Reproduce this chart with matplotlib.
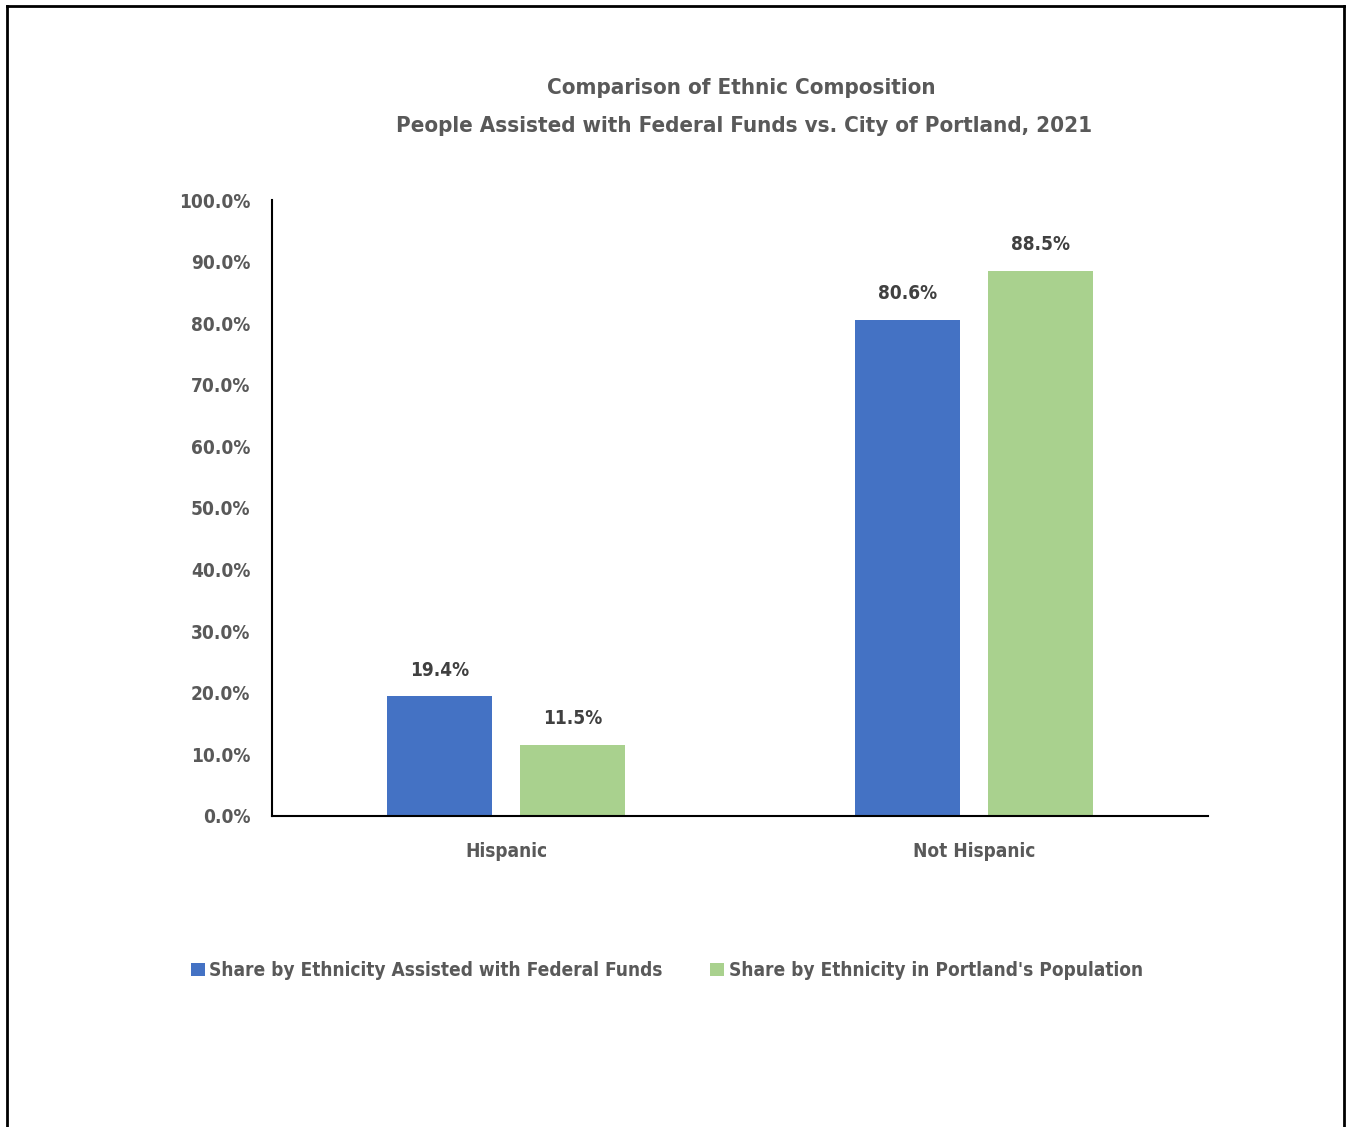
import matplotlib
matplotlib.use('Agg')
import matplotlib.pyplot as plt
from matplotlib.lines import Line2D
from matplotlib.patches import Patch
import numpy as np

plt.rcParams['font.family'] = ['DejaVu Sans']
plt.rcParams['font.stretch'] = 'condensed'

categories = ['Hispanic', 'Not Hispanic']
series_names = ['Share by Ethnicity Assisted with Federal Funds',
                "Share by Ethnicity in Portland's Population"]
federal = [19.4, 80.6]
portland = [11.5, 88.5]
colors = ['#4472C4', '#A9D18E']
text_color = '#595959'

fig = plt.figure(figsize=(13.51, 11.27), dpi=100)
ax = fig.add_axes([0.2013, 0.2760, 0.6929, 0.5465])

x = np.arange(len(categories))
width = 0.224
offset = 0.142
for vals, off, col in ((federal, -offset, colors[0]), (portland, offset, colors[1])):
    bars = ax.bar(x + off, vals, width, color=col, zorder=2)
    for b, v in zip(bars, vals):
        ax.annotate(f'{v:.1f}%', (b.get_x() + b.get_width() / 2, v),
                    xytext=(0, 12), textcoords='offset points', ha='center', va='bottom',
                    fontsize=13.7, fontweight='bold', color='#404040')

ax.set_xlim(-0.5, 1.5)
ax.set_ylim(0, 100)
ax.set_yticks(np.arange(0, 101, 10))
ax.set_yticklabels([f'{t:.1f}%' for t in np.arange(0, 101, 10)])
ax.set_xticks(x)
ax.set_xticklabels(categories)
ax.tick_params(axis='both', length=0, labelsize=13.7, labelcolor=text_color)
ax.tick_params(axis='y', pad=15.5)
ax.tick_params(axis='x', pad=19)
for lab in ax.get_xticklabels() + ax.get_yticklabels():
    lab.set_fontweight('bold')
ax.spines['top'].set_visible(False)
ax.spines['right'].set_visible(False)
ax.spines['left'].set_linewidth(1.5)
ax.spines['bottom'].set_linewidth(1.5)

fig.text(0.549, 0.922, 'Comparison of Ethnic Composition', ha='center', va='center',
         fontsize=16, fontweight='bold', color=text_color)
fig.text(0.551, 0.888, 'People Assisted with Federal Funds vs. City of Portland, 2021',
         ha='center', va='center', fontsize=16, fontweight='bold', color=text_color)

handles = [Patch(facecolor=c) for c in colors]
fig.legend(handles, series_names, loc='center', bbox_to_anchor=(0.4937, 0.139), ncol=2,
           frameon=False, handlelength=0.7, handleheight=0.7,
           handletextpad=0.26, columnspacing=2.5,
           prop={'weight': 'bold', 'size': 13.7})
for t in fig.legends[0].get_texts():
    t.set_color(text_color)

# outer frame (no bottom edge visible in the reference)
W, H = 1351, 1127
fig.add_artist(Line2D([7 / W, 7 / W], [0, 1 - 6 / H], color='black', lw=2))
fig.add_artist(Line2D([7 / W, 1344 / W], [1 - 6 / H, 1 - 6 / H], color='black', lw=2))
fig.add_artist(Line2D([1344 / W, 1344 / W], [0, 1 - 6 / H], color='black', lw=2))

fig.savefig('out.png', dpi=100, facecolor='white')
